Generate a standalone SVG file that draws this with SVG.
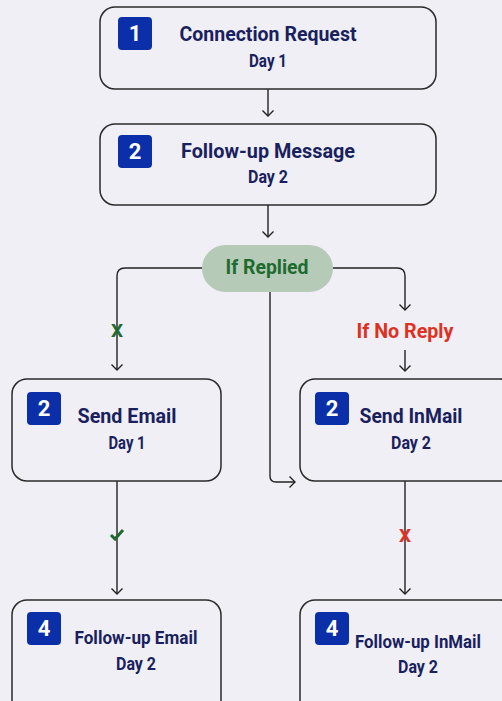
<svg xmlns="http://www.w3.org/2000/svg" width="502" height="701" viewBox="0 0 502 701">
<defs>
<marker id="arr" viewBox="0 0 12 12" refX="10.5" refY="6" markerWidth="12" markerHeight="12" markerUnits="userSpaceOnUse" orient="auto">
<path d="M5,0.5 L10.5,6 L5,11.5" fill="none" stroke="#222" stroke-width="1.4"/>
</marker>
</defs>
<style>
.box{fill:#f0eff6;stroke:#2a2a2a;stroke-width:1.5}
.badge{fill:#0b2fa8}
.num{font-family:Roboto,"Liberation Sans",sans-serif;font-weight:700;font-size:22px;fill:#fff;text-anchor:middle}
.title{font-family:Roboto,"Liberation Sans",sans-serif;font-weight:700;fill:#1a1f5e;text-anchor:middle}
.day{font-family:Roboto,"Liberation Sans",sans-serif;font-weight:700;font-size:18px;fill:#1a1f5e;text-anchor:middle}
.ln{fill:none;stroke:#222;stroke-width:1.4}
.mk{font-family:Roboto,"Liberation Sans",sans-serif;font-weight:700;font-size:19px;text-anchor:middle}
</style>
<rect width="502" height="701" fill="#f0eff6"/>
<g id="connectors">
<line class="ln" x1="268" y1="89" x2="268" y2="116" marker-end="url(#arr)"/>
<line class="ln" x1="268" y1="205" x2="268" y2="237" marker-end="url(#arr)"/>
<path class="ln" d="M202,268 H125 Q117,268 117,276 V370" marker-end="url(#arr)"/>
<path class="ln" d="M333,268 H397 Q405,268 405,276 V310" marker-end="url(#arr)"/>
<line class="ln" x1="405" y1="350" x2="405" y2="371" marker-end="url(#arr)"/>
<path class="ln" d="M270,292 V476 Q270,482 276,482 H295" marker-end="url(#arr)"/>
<line class="ln" x1="117" y1="481" x2="117" y2="594" marker-end="url(#arr)"/>
<line class="ln" x1="405" y1="481" x2="405" y2="594" marker-end="url(#arr)"/>
<text class="mk" x="117" y="337" fill="#1f6a2e">X</text>
<path d="M111,535 L115,539 L123,530" fill="none" stroke="#1f6a2e" stroke-width="3"/>
<text class="mk" x="405" y="542" fill="#e0301e">X</text>
<text x="405" y="338" font-family="Roboto,'Liberation Sans',sans-serif" font-weight="700" font-size="21" fill="#e0301e" text-anchor="middle" textLength="97" lengthAdjust="spacingAndGlyphs">If No Reply</text>
</g>
<g id="n1">
<rect class="box" x="100" y="7" width="336" height="82" rx="15"/>
<rect class="badge" x="118" y="17" width="34" height="33" rx="4"/>
<text class="num" x="135" y="41">1</text>
<text class="title" x="268" y="41" font-size="21" textLength="177" lengthAdjust="spacingAndGlyphs">Connection Request</text>
<text class="day" x="268" y="67" textLength="38" lengthAdjust="spacingAndGlyphs">Day 1</text>
</g>
<g id="n2">
<rect class="box" x="100" y="124" width="336" height="81" rx="15"/>
<rect class="badge" x="118" y="135" width="34" height="33" rx="4"/>
<text class="num" x="135" y="159">2</text>
<text class="title" x="268" y="158" font-size="21" textLength="174" lengthAdjust="spacingAndGlyphs">Follow-up Message</text>
<text class="day" x="268" y="183" textLength="40" lengthAdjust="spacingAndGlyphs">Day 2</text>
</g>
<g id="decision">
<rect x="202" y="245" width="131" height="47" rx="23.5" fill="#b5cbb7"/>
<text x="267" y="274" font-family="Roboto,'Liberation Sans',sans-serif" font-weight="700" font-size="21" fill="#1f6a2e" text-anchor="middle" textLength="83" lengthAdjust="spacingAndGlyphs">If Replied</text>
</g>
<g id="n3">
<rect class="box" x="12" y="379" width="209" height="102" rx="15"/>
<rect class="badge" x="27" y="392" width="34" height="33" rx="4"/>
<text class="num" x="44" y="416">2</text>
<text class="title" x="127" y="423" font-size="21" textLength="99" lengthAdjust="spacingAndGlyphs">Send Email</text>
<text class="day" x="127" y="449" textLength="37" lengthAdjust="spacingAndGlyphs">Day 1</text>
</g>
<g id="n4">
<rect class="box" x="300" y="379" width="215" height="102" rx="15"/>
<rect class="badge" x="315" y="392" width="34" height="33" rx="4"/>
<text class="num" x="332" y="416">2</text>
<text class="title" x="411" y="423" font-size="21" textLength="103" lengthAdjust="spacingAndGlyphs">Send InMail</text>
<text class="day" x="411" y="449" textLength="40" lengthAdjust="spacingAndGlyphs">Day 2</text>
</g>
<g id="n5">
<rect class="box" x="12" y="600" width="209" height="130" rx="15"/>
<rect class="badge" x="27" y="612" width="34" height="33" rx="4"/>
<text class="num" x="44" y="636">4</text>
<text class="title" x="136" y="644" font-size="18" textLength="123" lengthAdjust="spacingAndGlyphs">Follow-up Email</text>
<text class="day" x="136" y="670" textLength="40" lengthAdjust="spacingAndGlyphs">Day 2</text>
</g>
<g id="n6">
<rect class="box" x="300" y="600" width="215" height="130" rx="15"/>
<rect class="badge" x="315" y="612" width="34" height="33" rx="4"/>
<text class="num" x="332" y="636">4</text>
<text class="title" x="418" y="648" font-size="18" textLength="126" lengthAdjust="spacingAndGlyphs">Follow-up InMail</text>
<text class="day" x="418" y="673" textLength="40" lengthAdjust="spacingAndGlyphs">Day 2</text>
</g>
</svg>
